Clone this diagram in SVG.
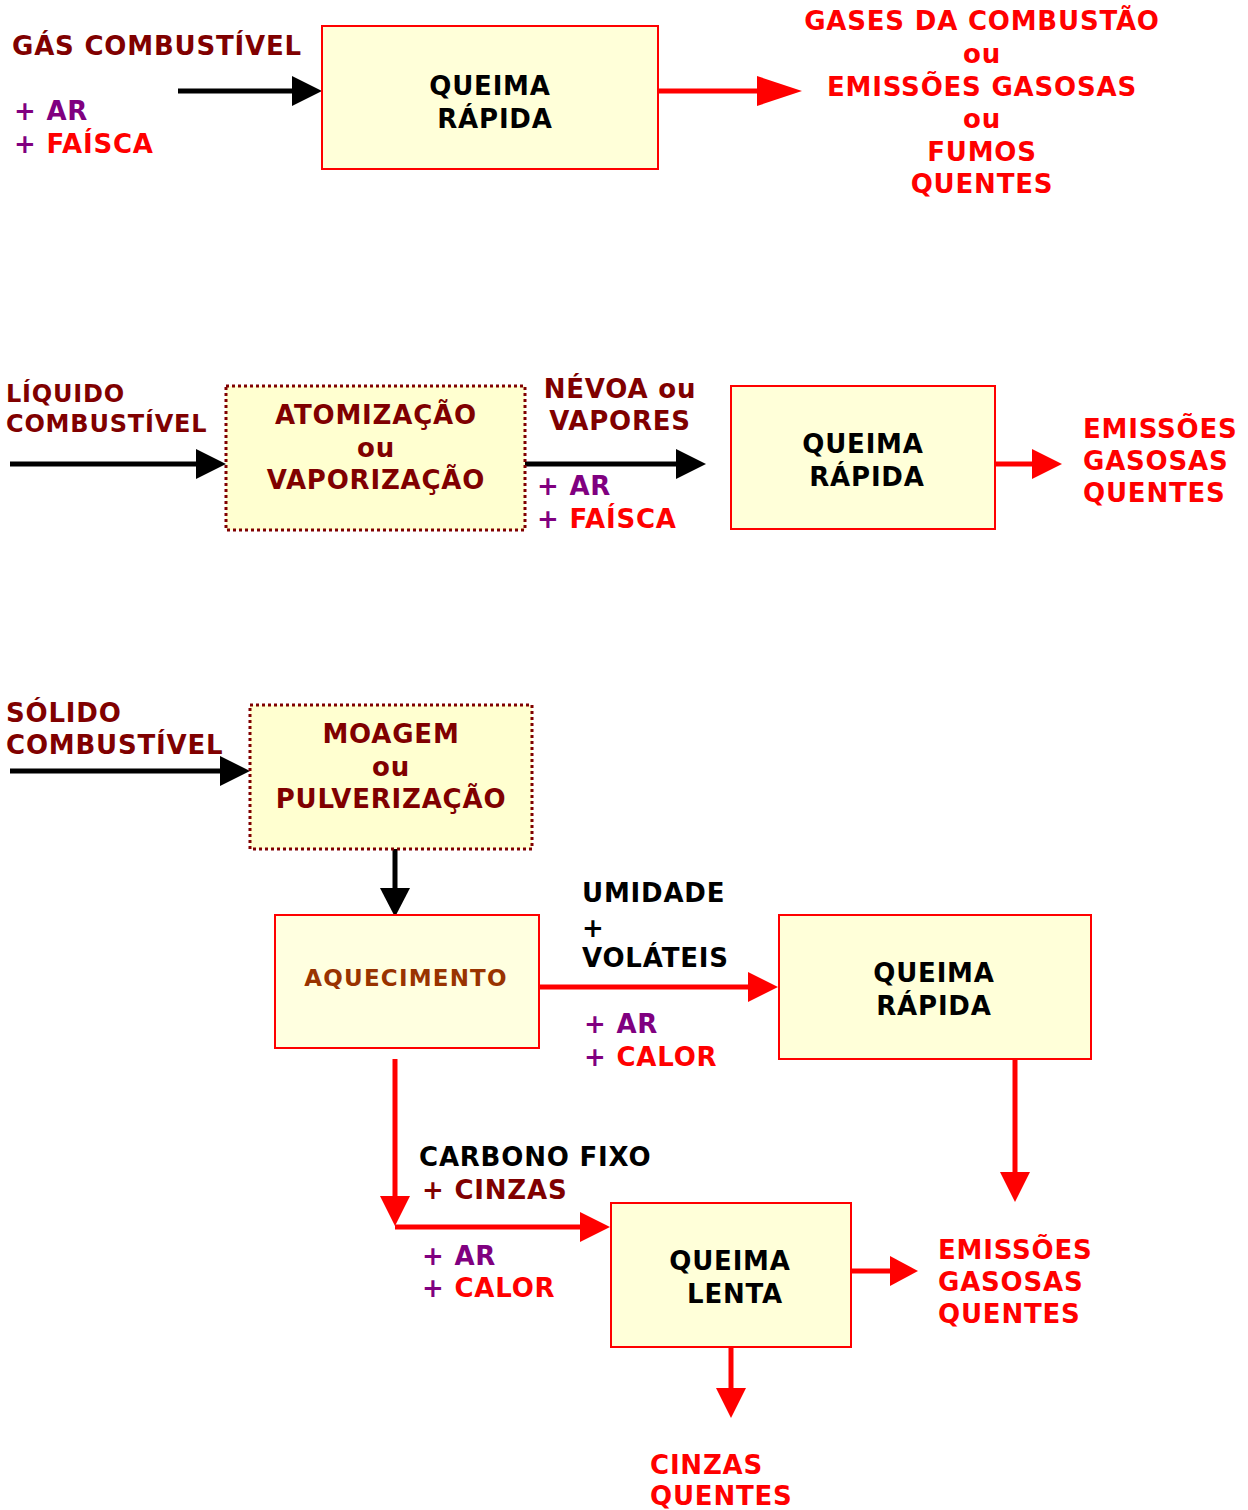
<svg xmlns="http://www.w3.org/2000/svg" width="1248" height="1510" viewBox="0 0 1248 1510">
<style>
text{font-family:"DejaVu Sans","Verdana",sans-serif;font-weight:bold;font-size:26px;letter-spacing:0.8px}
.dr{fill:#800000}.pu{fill:#800080}.rd{fill:#FF0000}.bk{fill:#000}.br{fill:#993300}
.mid{text-anchor:middle}
.box{fill:#FFFFD9;stroke:#FF0000;stroke-width:2}
.dot{fill:#FFFFD0;stroke:#800000;stroke-width:3;stroke-dasharray:3 3}
.lb{stroke:#000;stroke-width:5;fill:none}
.lr{stroke:#FF0000;stroke-width:5;fill:none}
.hb{fill:#000}.hr{fill:#FF0000}
</style>
<rect width="1248" height="1510" fill="#fff"/>
<g id="connectors">
<line class="lb" x1="178" y1="91" x2="295" y2="91"/><polygon class="hb" points="292,76 322,91 292,106"/>
<line class="lr" x1="658" y1="91" x2="760" y2="91"/><polygon class="hr" points="757,76 802,91 757,106"/>
<line class="lb" x1="10" y1="464" x2="200" y2="464"/><polygon class="hb" points="196,449 226,464 196,479"/>
<line class="lb" x1="514" y1="464" x2="680" y2="464"/><polygon class="hb" points="676,449 706,464 676,479"/>
<line class="lr" x1="995" y1="464" x2="1035" y2="464"/><polygon class="hr" points="1032,449 1062,464 1032,479"/>
<line class="lb" x1="10" y1="771" x2="224" y2="771"/><polygon class="hb" points="220,756 250,771 220,786"/>
<line class="lb" x1="395" y1="849" x2="395" y2="892"/><polygon class="hb" points="380,888 395,917 410,888"/>
<line class="lr" x1="539" y1="987" x2="752" y2="987"/><polygon class="hr" points="748,972 778,987 748,1002"/>
<line class="lr" x1="1015" y1="1059" x2="1015" y2="1176"/><polygon class="hr" points="1000,1172 1015,1202 1030,1172"/>
<line class="lr" x1="395" y1="1059" x2="395" y2="1200"/><polygon class="hr" points="380,1196 395,1226 410,1196"/>
<line class="lr" x1="395" y1="1227" x2="584" y2="1227"/><polygon class="hr" points="580,1212 610,1227 580,1242"/>
<line class="lr" x1="848" y1="1271" x2="894" y2="1271"/><polygon class="hr" points="890,1256 918,1271 890,1286"/>
<line class="lr" x1="731" y1="1347" x2="731" y2="1392"/><polygon class="hr" points="716,1388 731,1418 746,1388"/>
</g>
<g id="gas-label">
<text class="dr" x="12" y="55">GÁS COMBUSTÍVEL</text>
<text x="14" y="120"><tspan class="pu">+ AR</tspan></text>
<text x="14" y="153"><tspan class="pu">+ </tspan><tspan class="rd">FAÍSCA</tspan></text>
</g>
<g id="queima-rapida-1">
<rect class="box" x="322" y="26" width="336" height="143"/>
<text class="bk mid" x="490" y="95">QUEIMA</text>
<text class="bk mid" x="495" y="128">RÁPIDA</text>
</g>
<g id="gases-out">
<text class="rd mid" x="982" y="30">GASES DA COMBUSTÃO</text>
<text class="rd mid" x="982" y="63">ou</text>
<text class="rd mid" x="982" y="96">EMISSÕES GASOSAS</text>
<text class="rd mid" x="982" y="128">ou</text>
<text class="rd mid" x="982" y="161">FUMOS</text>
<text class="rd mid" x="982" y="193">QUENTES</text>
</g>
<g id="liquido-label">
<text class="dr" x="6" y="402" style="font-size:24px">LÍQUIDO</text>
<text class="dr" x="6" y="432" style="font-size:24px">COMBUSTÍVEL</text>
</g>
<g id="atomizacao">
<rect class="dot" x="226" y="386" width="299" height="144"/>
<text class="dr mid" x="376" y="424">ATOMIZAÇÃO</text>
<text class="dr mid" x="376" y="457">ou</text>
<text class="dr mid" x="376" y="489">VAPORIZAÇÃO</text>
</g>
<g id="nevoa-label">
<text class="dr mid" x="620" y="398">NÉVOA ou</text>
<text class="dr mid" x="620" y="430">VAPORES</text>
<text x="537" y="495"><tspan class="pu">+ AR</tspan></text>
<text x="537" y="528"><tspan class="pu">+ </tspan><tspan class="rd">FAÍSCA</tspan></text>
</g>
<g id="queima-rapida-2">
<rect class="box" x="731" y="386" width="264" height="143"/>
<text class="bk mid" x="863" y="453">QUEIMA</text>
<text class="bk mid" x="867" y="486">RÁPIDA</text>
</g>
<g id="emissoes-2">
<text class="rd" x="1083" y="438">EMISSÕES</text>
<text class="rd" x="1083" y="470">GASOSAS</text>
<text class="rd" x="1083" y="502">QUENTES</text>
</g>
<g id="solido-label">
<text class="dr" x="6" y="722">SÓLIDO</text>
<text class="dr" x="6" y="754">COMBUSTÍVEL</text>
</g>
<g id="moagem">
<rect class="dot" x="250" y="705" width="282" height="144"/>
<text class="dr mid" x="391" y="743">MOAGEM</text>
<text class="dr mid" x="391" y="776">ou</text>
<text class="dr mid" x="391" y="808">PULVERIZAÇÃO</text>
</g>
<g id="aquecimento">
<rect class="box" x="275" y="915" width="264" height="133" style="fill:#FFFFE0"/>
<text class="br mid" x="406" y="986" style="font-size:23px;letter-spacing:1.2px">AQUECIMENTO</text>
</g>
<g id="umidade-label">
<text class="bk" x="582" y="902">UMIDADE</text>
<text class="bk" x="582" y="937">+</text>
<text class="bk" x="582" y="967">VOLÁTEIS</text>
<text x="584" y="1033"><tspan class="pu">+ AR</tspan></text>
<text x="584" y="1066"><tspan class="pu">+ </tspan><tspan class="rd">CALOR</tspan></text>
</g>
<g id="queima-rapida-3">
<rect class="box" x="779" y="915" width="312" height="144"/>
<text class="bk mid" x="934" y="982">QUEIMA</text>
<text class="bk mid" x="934" y="1015">RÁPIDA</text>
</g>
<g id="carbono-label">
<text class="bk" x="419" y="1166">CARBONO FIXO</text>
<text class="dr" x="422" y="1199">+ CINZAS</text>
<text x="422" y="1265"><tspan class="pu">+ AR</tspan></text>
<text x="422" y="1297"><tspan class="pu">+ </tspan><tspan class="rd">CALOR</tspan></text>
</g>
<g id="queima-lenta">
<rect class="box" x="611" y="1203" width="240" height="144"/>
<text class="bk mid" x="730" y="1270">QUEIMA</text>
<text class="bk mid" x="735" y="1303">LENTA</text>
</g>
<g id="emissoes-3">
<text class="rd" x="938" y="1259">EMISSÕES</text>
<text class="rd" x="938" y="1291">GASOSAS</text>
<text class="rd" x="938" y="1323">QUENTES</text>
</g>
<g id="cinzas-quentes">
<text class="rd" x="650" y="1474">CINZAS</text>
<text class="rd" x="650" y="1505">QUENTES</text>
</g>
</svg>
